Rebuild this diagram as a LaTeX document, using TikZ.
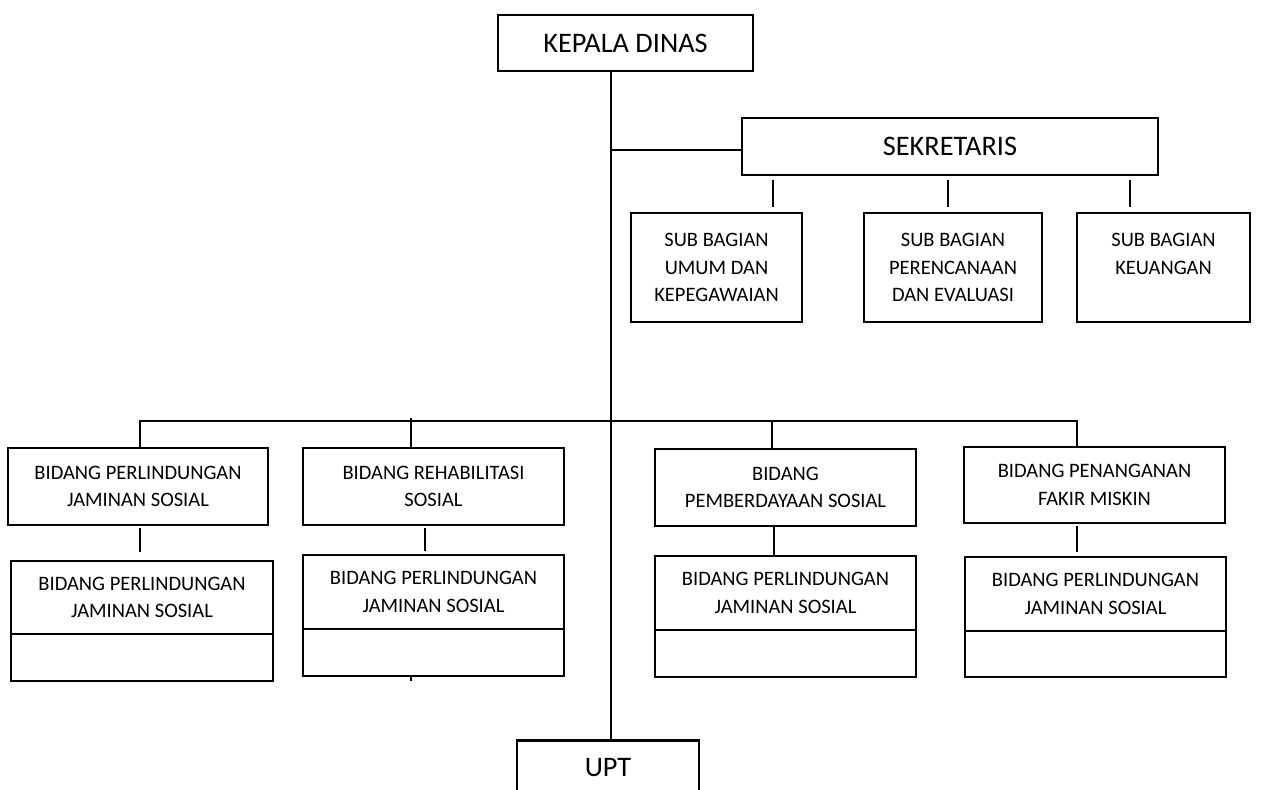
\documentclass[tikz,border=0pt]{standalone}
\usepackage{fontspec}
\setmainfont{Carlito}
\begin{document}
\begin{tikzpicture}[x=1pt,y=-1pt,
  box/.style={draw, line width=2.5pt, inner sep=0pt, align=center},
  big/.style={font=\fontsize{28.3}{33}\selectfont},
  small/.style={font=\fontsize{20.5}{27.5}\selectfont},
  conn/.style={line width=2pt}]
\useasboundingbox (0,0) rectangle (1275,790);
% top
\node[box,big,minimum width=255,minimum height=56] (kd) at (625.5,43) {KEPALA DINAS};
\node[box,big,minimum width=416,minimum height=57] (sek) at (950,146.5) {SEKRETARIS};
% sub bagian
\node[box,small,minimum width=171,minimum height=109] (sb1) at (716.5,267.5) {SUB BAGIAN\\UMUM DAN\\KEPEGAWAIAN};
\node[box,small,minimum width=178,minimum height=109] (sb2) at (953,267.5) {SUB BAGIAN\\PERENCANAAN\\DAN EVALUASI};
\node[box,small,minimum width=173,minimum height=109] (sb3) at (1163.5,267.5) {SUB BAGIAN\\KEUANGAN\\~};
% bidang
\node[box,small,minimum width=260,minimum height=77] (b1) at (138,486.5) {BIDANG PERLINDUNGAN\\JAMINAN SOSIAL};
\node[box,small,minimum width=261,minimum height=77] (b2) at (433.5,486.5) {BIDANG REHABILITASI\\SOSIAL};
\node[box,small,minimum width=261,minimum height=77] (b3) at (785.5,487.5) {BIDANG\\PEMBERDAYAAN SOSIAL};
\node[box,small,minimum width=261,minimum height=76] (b4) at (1094.5,485) {BIDANG PENANGANAN\\FAKIR MISKIN};
% lower boxes
\node[box,small,minimum width=262,minimum height=73] (l1) at (142,597.5) {BIDANG PERLINDUNGAN\\JAMINAN SOSIAL};
\node[box,minimum width=262,minimum height=47] (l1b) at (142,657.5) {};
\node[box,small,minimum width=261,minimum height=74] (l2) at (433.5,592) {BIDANG PERLINDUNGAN\\JAMINAN SOSIAL};
\node[box,minimum width=261,minimum height=47] (l2b) at (433.5,652.5) {};
\node[box,small,minimum width=261,minimum height=74] (l3) at (785.5,593) {BIDANG PERLINDUNGAN\\JAMINAN SOSIAL};
\node[box,minimum width=261,minimum height=47] (l3b) at (785.5,653.5) {};
\node[box,small,minimum width=261,minimum height=74] (l4) at (1095.5,594) {BIDANG PERLINDUNGAN\\JAMINAN SOSIAL};
\node[box,minimum width=261,minimum height=46] (l4b) at (1095.5,654) {};
% UPT
\node[box,minimum width=182,minimum height=100,anchor=north] (upt) at (608,739) {};
\node[big] (uptt) at (608,768) {UPT};
% connectors
\coordinate (t) at (611,0);
\coordinate (j1) at (611,150);
\draw[conn] (kd.south -| t) -- (upt.north -| t);
\draw[conn] (j1) -- (j1 -| sek.west);
\coordinate (s1) at (773,0);
\coordinate (s2) at (948,0);
\coordinate (s3) at (1130,0);
\draw[conn,shorten <=4pt,shorten >=5pt] (sek.south -| s1) -- (sb1.north -| s1);
\draw[conn,shorten <=4pt,shorten >=5pt] (sek.south -| s2) -- (sb2.north -| s2);
\draw[conn,shorten <=4pt,shorten >=5pt] (sek.south -| s3) -- (sb3.north -| s3);
\coordinate (bl) at (140,421);
\coordinate (br) at (1077,421);
\coordinate (bm2) at (411,421);
\coordinate (bm3) at (772,421);
\draw[conn] (b1.north -| bl) -- (bl) -- (br) -- (b4.north -| br);
\draw[conn] (bm2) ++(0,-3) -- (b2.north -| bm2);
\draw[conn] (bm3) -- (b3.north -| bm3);
\coordinate (v1) at (140,0);
\coordinate (v2) at (425,0);
\coordinate (v3) at (774,0);
\coordinate (v4) at (1077,0);
\draw[conn,shorten <=2pt,shorten >=8pt] (b1.south -| v1) -- (l1.north -| v1);
\draw[conn,shorten <=2pt,shorten >=3pt] (b2.south -| v2) -- (l2.north -| v2);
\draw[conn] (b3.south -| v3) -- (l3.north -| v3);
\draw[conn,shorten <=2pt,shorten >=4pt] (b4.south -| v4) -- (l4.north -| v4);
\coordinate (tk) at (411,0);
\draw[conn] (l2b.south -| tk) -- ++(0,4);
\end{tikzpicture}
\end{document}
